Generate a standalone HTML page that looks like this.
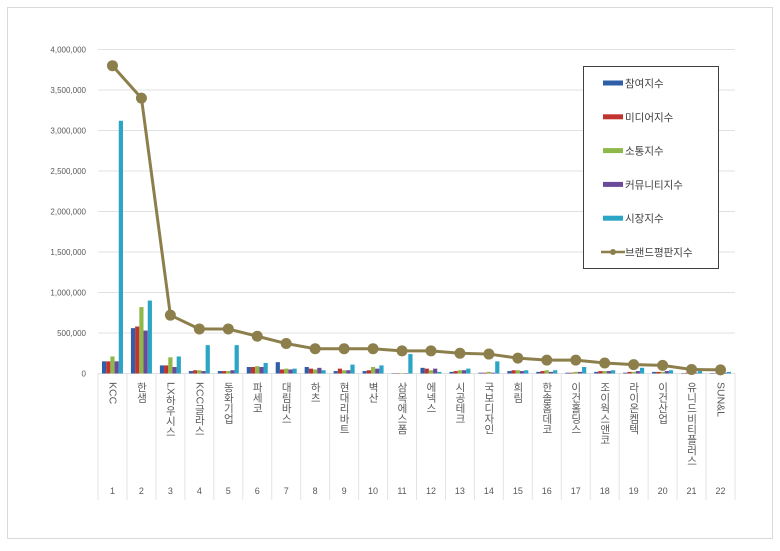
<!DOCTYPE html>
<html><head><meta charset="utf-8"><style>
body{margin:0;background:#fff;font-family:"Liberation Sans","Noto Sans CJK KR",sans-serif;}
svg text{font-family:"Liberation Sans","Noto Sans CJK KR",sans-serif;}
</style></head><body>
<svg id="chart" width="780" height="546" xmlns="http://www.w3.org/2000/svg">
<rect x="7.5" y="7.5" width="765" height="531" fill="#fff" stroke="#d9d9d9"/>
<g id="grid"></g><g id="bars"></g><g id="line"></g><g id="xlab"></g>
<g>
<rect x="583.5" y="66.5" width="135" height="202" fill="#fff" stroke="#404040"/>
<g id="leg"></g>
</g>
</svg>
<script>
const categories=["KCC","한샘","LX하우시스","KCC글라스","동화기업","파세코","대림바스","하츠","현대리바트","벽산","삼목에스폼","에넥스","시공테크","국보디자인","희림","한솔홈데코","이건홀딩스","조이웍스앤코","라이온켐텍","이건산업","유니드비티플러스","SUN&L"];
const participation=[150000,560000,100000,30000,30000,80000,140000,80000,30000,30000,5000,70000,20000,10000,30000,20000,10000,20000,10000,20000,5000,5000];
const media=[150000,580000,100000,40000,30000,80000,50000,60000,60000,40000,5000,60000,30000,10000,40000,30000,10000,30000,20000,20000,10000,5000];
const communication=[210000,820000,200000,40000,30000,90000,60000,50000,40000,80000,5000,40000,40000,20000,40000,40000,20000,30000,20000,20000,10000,10000];
const community=[150000,530000,80000,30000,40000,80000,50000,70000,40000,60000,5000,60000,40000,10000,30000,20000,20000,30000,30000,30000,10000,10000];
const market=[3120000,900000,210000,350000,350000,130000,60000,40000,110000,100000,240000,20000,60000,150000,40000,40000,80000,40000,70000,40000,30000,20000];
const brandIndex=[3800000,3400000,720000,550000,550000,460000,370000,305000,305000,305000,280000,280000,250000,240000,190000,165000,165000,130000,110000,100000,50000,45000];
const yTicks=[0,500000,1000000,1500000,2000000,2500000,3000000,3500000,4000000];
const seriesNames=["참여지수","미디어지수","소통지수","커뮤니티지수","시장지수","브랜드평판지수"];
const seriesColors=["#2e5fa8","#c0332f","#8fb84a","#6b4a9a","#2aa5c6","#8c7f4b"];
const NS="http://www.w3.org/2000/svg";
const X0=98,X1=735,Y0=373.5,YT=49.5,YMAX=4000000;
const bw=(X1-X0)/categories.length;
function y(v){return Y0-(v/YMAX)*(Y0-YT);}
function xc(i){return X0+bw*(i+0.5);}
function mk(tag,attrs,parent){const e=document.createElementNS(NS,tag);for(const k in attrs)e.setAttribute(k,attrs[k]);parent.appendChild(e);return e;}
const grid=document.getElementById('grid');
yTicks.forEach(t=>{
 const l=mk('line',{x1:X0,x2:X1,y1:y(t),y2:y(t),stroke:'#e0e0e0'},grid);
 
 
 const tx=mk('text',{x:86,y:y(t)+3,'text-anchor':'end','font-size':8,fill:'#595959'},grid);
 tx.textContent=t.toLocaleString('en-US');
 
 
});
for(let i=0;i<=categories.length;i++){
 const l=mk('line',{x1:X0+bw*i,x2:X0+bw*i,y1:Y0,y2:500,stroke:'#e4e4e4'},grid);
 
 
}
const bars=document.getElementById('bars');
const series=[participation,media,communication,community,market];
const barW=4.2;
categories.forEach((c,i)=>{
 series.forEach((s,k)=>{
  const x=xc(i)-2.5*barW+k*barW;
  const r=mk('rect',{x:x,y:y(s[i]),width:barW,height:Math.max(0,Y0-y(s[i])),fill:seriesColors[k]},bars);
  
  
 });
});
const line=document.getElementById('line');
const pts=brandIndex.map((v,i)=>xc(i)+','+y(v)).join(' ');
const pl=mk('polyline',{points:pts,fill:'none',stroke:seriesColors[5],'stroke-width':3},line);


brandIndex.forEach((v,i)=>{
 const c=mk('circle',{cx:xc(i),cy:y(v),r:5.5,fill:seriesColors[5]},line);
 
 
});
const xl=document.getElementById('xlab');
categories.forEach((c,i)=>{
 const t=mk('text',{x:xc(i),y:382,'font-size':10.5,fill:'#595959','text-anchor':'start'},xl);
 t.setAttribute('style','writing-mode:vertical-rl;');
 t.textContent=c;
 
 
 const n=mk('text',{x:xc(i),y:494,'font-size':9,fill:'#595959','text-anchor':'middle'},xl);
 n.textContent=i+1;
 
 
});
const leg=document.getElementById('leg');
seriesNames.forEach((n,k)=>{
 const yy=83+k*33.8;
 let sw;
 if(k<5){sw=mk('rect',{x:603,y:yy-2.5,width:20,height:5,fill:seriesColors[k]},leg);}
 else{sw=mk('line',{x1:601,x2:625,y1:yy,y2:yy,stroke:seriesColors[k],'stroke-width':2.5},leg);
  const d=mk('circle',{cx:613,cy:yy,r:3,fill:seriesColors[k]},leg);
  
  }
 
 
 const t=mk('text',{x:625,y:yy+4,'font-size':10.5,fill:'#404040'},leg);
 t.textContent=n;
 
 
});
</script>
</body></html>
